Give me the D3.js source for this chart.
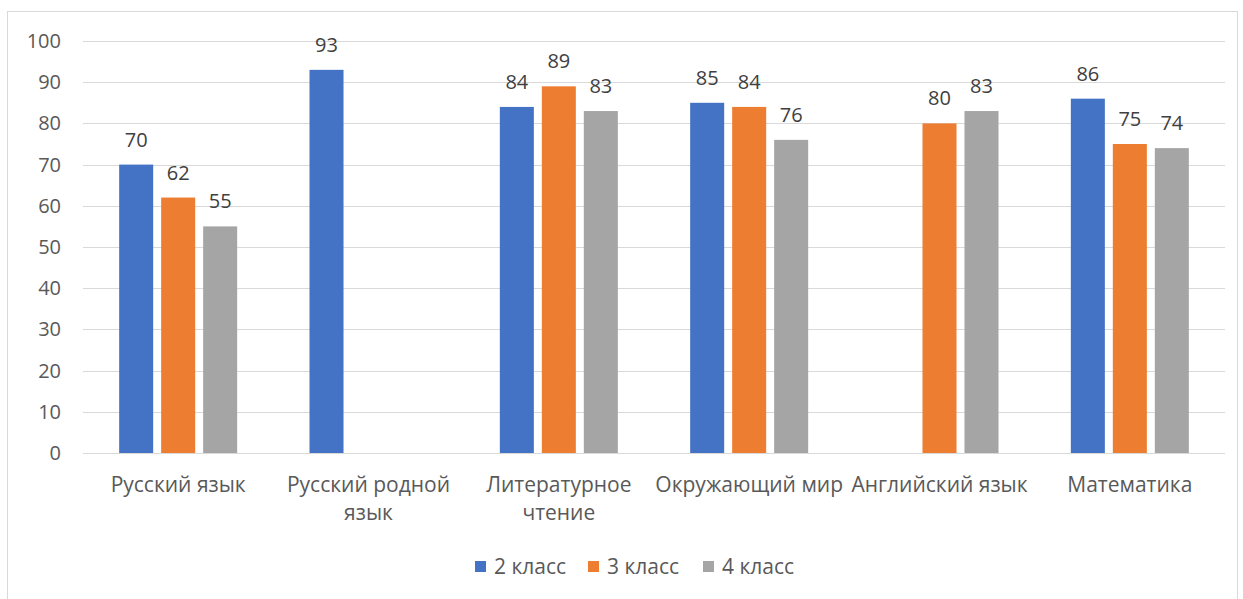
<!DOCTYPE html>
<html><head><meta charset="utf-8">
<script src="https://cdn.jsdelivr.net/npm/d3@7"></script>
<style>body{margin:0;background:#fff;} text{font-family:"Open Sans",sans-serif;}</style>
</head><body>
<svg id="c" width="1243" height="599"></svg>
<script>
const categories = [["Русский язык"],["Русский родной","язык"],["Литературное","чтение"],["Окружающий мир"],["Английский язык"],["Математика"]];
const seriesNames = ["2 класс","3 класс","4 класс"];
const class2 = [70, 93, 84, 85, null, 86];
const class3 = [62, null, 89, 84, 80, 75];
const class4 = [55, null, 83, 76, 83, 74];
const yTicks = [0,10,20,30,40,50,60,70,80,90,100];
const colors = ["#4472c4","#ed7d31","#a5a5a5"];

const svg = d3.select("#c");
svg.append("rect").attr("x",7.5).attr("y",11.5).attr("width",1230).attr("height",590)
  .attr("fill","#fff").attr("stroke","#d9d9d9");

const pLeft=83, pRight=1225, pTop=41, pBottom=453;
const x = d3.scaleBand().domain(d3.range(categories.length)).range([pLeft,pRight]).paddingInner(0).paddingOuter(0);
const y = d3.scaleLinear().domain([0,100]).range([pBottom,pTop]);
const x1 = d3.scaleBand().domain(d3.range(3)).range([-59, 59]).paddingInner(0.19).paddingOuter(0);

const g = svg.append("g");
g.selectAll("line.grid").data(yTicks).join("line")
  .attr("x1",pLeft).attr("x2",pRight).attr("y1",d=>Math.round(y(d))+0.5).attr("y2",d=>Math.round(y(d))+0.5)
  .attr("stroke","#d9d9d9").attr("stroke-width",1);
g.selectAll("text.yt").data(yTicks).join("text")
  .attr("x",61).attr("y",d=>y(d)).attr("dy","0.35em").attr("text-anchor","end")
  .attr("font-size",20).attr("fill","#595959").text(d=>d);

const series=[class2,class3,class4];
series.forEach((vals,si)=>{
  const data = vals.map((v,i)=>({v,i})).filter(d=>d.v!=null);
  g.selectAll("rect.s"+si).data(data).join("rect")
    .attr("x",d=>x(d.i)+x.bandwidth()/2+x1(si))
    .attr("width",x1.bandwidth())
    .attr("y",d=>y(d.v)).attr("height",d=>y(0)-y(d.v))
    .attr("fill",colors[si]);
  g.selectAll("text.l"+si).data(data).join("text")
    .attr("x",d=>x(d.i)+x.bandwidth()/2+x1(si)+x1.bandwidth()/2)
    .attr("y",d=>y(d.v)-18).attr("text-anchor","middle")
    .attr("font-size",20).attr("fill","#404040").text(d=>d.v);
});

categories.forEach((lines,i)=>{
  const t = g.append("text").attr("text-anchor","middle").attr("font-size",21).attr("fill","#595959");
  lines.forEach((ln,j)=>{
    t.append("tspan").attr("x",x(i)+x.bandwidth()/2).attr("y",492+j*28).text(ln);
  });
});

const lx=[475,588,703];
seriesNames.forEach((n,i)=>{
  svg.append("rect").attr("x",lx[i]).attr("y",561).attr("width",11).attr("height",11).attr("fill",colors[i]);
  svg.append("text").attr("x",lx[i]+19).attr("y",567).attr("dy","0.35em").attr("font-size",21)
    .attr("fill","#595959").text(n);
});
</script>
</body></html>
